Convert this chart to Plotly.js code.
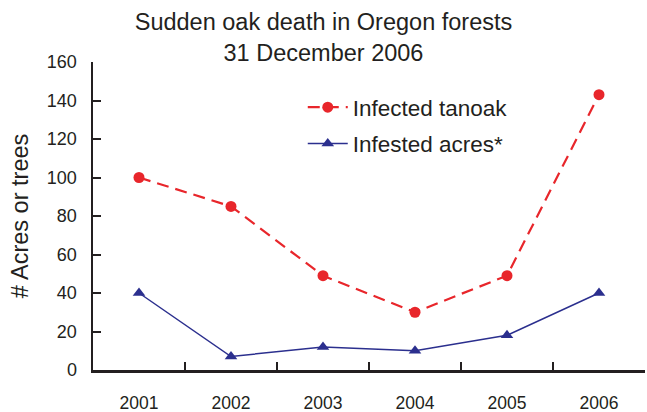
<!DOCTYPE html>
<html><head><meta charset="utf-8">
<script src="https://cdn.plot.ly/plotly-3.0.1.min.js"></script>
<style>html,body{margin:0;padding:0;background:#fff}</style>
</head><body>
<div id="chart" style="width:647px;height:412px"></div>
<script>
var years = ['2001','2002','2003','2004','2005','2006'];
var infectedTanoak = [100, 85, 49, 30, 49, 143];
var infestedAcres = [40, 7, 12, 10, 18, 40];
var yTicks = [0, 20, 40, 60, 80, 100, 120, 140, 160];

var font = 'Liberation Sans, Arial, Helvetica, sans-serif';
var ink = '#231f20';
var traces = [
  {x: years, y: infectedTanoak, name: 'Infected tanoak', type: 'scatter', mode: 'lines+markers',
   legendgroup: 'a',
   line: {color: '#e8262b', width: 2.2, dash: '12px,7px'},
   marker: {symbol: 'circle', size: 11, color: '#e8262b'}},
  {x: years, y: infestedAcres, name: 'Infested acres*', type: 'scatter', mode: 'lines+markers',
   legendgroup: 'b',
   line: {color: '#2b2f8e', width: 1.5},
   marker: {symbol: 'triangle-up', size: 11, color: '#2b2f8e'}}
];
var layout = {
  width: 647, height: 412,
  margin: {l: 93, r: 2, t: 62, b: 42},
  paper_bgcolor: '#fff', plot_bgcolor: '#fff',
  font: {family: font, color: ink},
  title: {text: 'Sudden oak death in Oregon forests<br>31 December 2006', x: 0.5, xanchor: 'center',
          y: 0.926, yanchor: 'top', font: {size: 23.5, family: font, color: ink}},
  showlegend: true,
  legend: {x: 0.38, y: 0.922, xanchor: 'left', yanchor: 'top', bgcolor: 'rgba(0,0,0,0)',
           traceorder: 'grouped', tracegroupgap: 4, itemwidth: 40,
           font: {size: 22.5, family: font, color: ink}},
  xaxis: {type: 'category', range: [-0.5, 5.5], showline: true, linecolor: ink, linewidth: 2.5,
          ticks: 'inside', tickson: 'boundaries', ticklen: 8, tickwidth: 2, tickcolor: ink,
          showgrid: false, zeroline: false, tickfont: {size: 17.5, family: font, color: ink},
          ticklabelstandoff: 15, fixedrange: true},
  yaxis: {range: [0, 160], tickvals: yTicks, showline: true, linecolor: ink, linewidth: 2.5,
          ticks: 'inside', ticklen: 8, tickwidth: 2, tickcolor: ink, showgrid: false, zeroline: false,
          tickfont: {size: 18, family: font, color: ink}, ticklabelstandoff: 10,
          title: {text: '# Acres or trees', font: {size: 23.5, family: font, color: ink}, standoff: 12}}
};
Plotly.newPlot('chart', traces, layout, {displayModeBar: false, staticPlot: true});
</script>
</body></html>
